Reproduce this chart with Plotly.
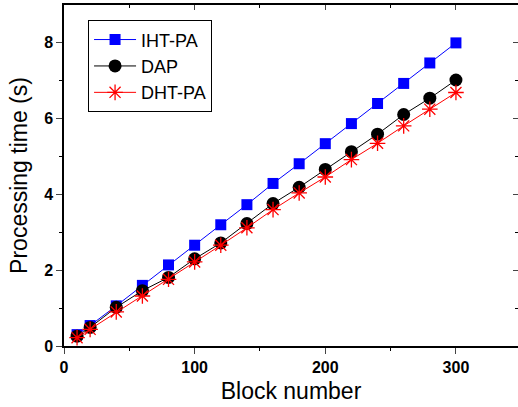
import plotly.graph_objects as go

block = [10, 20, 40, 60, 80, 100, 120, 140, 160, 180, 200, 220, 240, 260, 280, 300]
iht_pa = [0.30, 0.54, 1.06, 1.60, 2.14, 2.66, 3.20, 3.73, 4.29, 4.81, 5.34, 5.87, 6.40, 6.93, 7.47, 8.00]
dap = [0.26, 0.49, 1.02, 1.46, 1.81, 2.30, 2.72, 3.23, 3.76, 4.19, 4.66, 5.13, 5.59, 6.11, 6.54, 7.02]
dht_pa = [0.22, 0.44, 0.90, 1.32, 1.76, 2.22, 2.66, 3.12, 3.60, 4.04, 4.46, 4.92, 5.35, 5.81, 6.25, 6.69]

FONT = "Liberation Sans, Arial, sans-serif"
XR = [0, 347.5]
YR = [0, 9.0]

fig = go.Figure()
fig.add_trace(go.Scatter(x=block, y=iht_pa, name="IHT-PA", mode="lines+markers",
                         line=dict(color="#0000ff", width=1),
                         marker=dict(symbol="square", size=11, color="#0000ff")))
fig.add_trace(go.Scatter(x=block, y=dap, name="DAP", mode="lines+markers",
                         line=dict(color="#000000", width=1),
                         marker=dict(symbol="circle", size=13, color="#000000")))
fig.add_trace(go.Scatter(x=block, y=dht_pa, name="DHT-PA", mode="lines+markers",
                         line=dict(color="#ff0000", width=1),
                         marker=dict(symbol="asterisk-open", size=13,
                                     line=dict(color="#ff0000", width=1.3))))
# invisible trace to activate mirrored axes
fig.add_trace(go.Scatter(x=[0], y=[0], xaxis="x2", yaxis="y2", mode="markers",
                         marker=dict(opacity=0), showlegend=False, hoverinfo="skip"))

fig.update_layout(
    width=518, height=407,
    margin=dict(l=64, r=0, t=5, b=61),
    paper_bgcolor="white", plot_bgcolor="white",
    font=dict(family=FONT, color="black"),
    showlegend=True,
    legend=dict(x=0.053, y=0.955, xanchor="left", yanchor="top",
                bordercolor="black", borderwidth=1, bgcolor="white",
                itemwidth=42,
                font=dict(size=18, family=FONT), tracegroupgap=0),
    xaxis=dict(range=XR, tickvals=[0, 100, 200, 300], ticks="outside", ticklen=6,
               tickwidth=1.3, showline=True, linecolor="black", linewidth=1.5,
               showgrid=False, zeroline=False, automargin=False,
               minor=dict(tickvals=[50, 150, 250], ticks="outside", ticklen=3,
                          tickwidth=1.3, tickcolor="black"),
               tickfont=dict(size=16, family="Liberation Sans, Arial", weight="bold"),
               title=dict(text="Block number", font=dict(size=23), standoff=8)),
    yaxis=dict(range=YR, tickvals=[0, 2, 4, 6, 8], ticks="outside", ticklen=6,
               tickwidth=1.3, showline=True, linecolor="black", linewidth=1.5,
               showgrid=False, zeroline=False, automargin=False,
               minor=dict(tickvals=[1, 3, 5, 7], ticks="outside", ticklen=3,
                          tickwidth=1.3, tickcolor="black"),
               tickfont=dict(size=16, family="Liberation Sans, Arial", weight="bold"),
               title=dict(text="Processing time (s)", font=dict(size=23), standoff=10)),
    xaxis2=dict(range=XR, overlaying="x", side="top", tickvals=[0, 100, 200, 300],
                ticks="inside", ticklen=5, tickwidth=1.3, showticklabels=False,
                showline=True, linecolor="black", linewidth=1.5, showgrid=False,
                zeroline=False, automargin=False,
                minor=dict(tickvals=[50, 150, 250], ticks="inside", ticklen=3,
                           tickwidth=1.3, tickcolor="black")),
    yaxis2=dict(range=YR, overlaying="y", side="right", tickvals=[0, 2, 4, 6, 8],
                ticks="inside", ticklen=5, tickwidth=1.3, showticklabels=False,
                showline=False, showgrid=False, zeroline=False, automargin=False,
                minor=dict(tickvals=[1, 3, 5, 7], ticks="inside", ticklen=3,
                           tickwidth=1.3, tickcolor="black")),
)

fig.write_html("out.html", config={"displayModeBar": False},
               post_script="document.body.style.margin='0';document.body.style.padding='0';")
